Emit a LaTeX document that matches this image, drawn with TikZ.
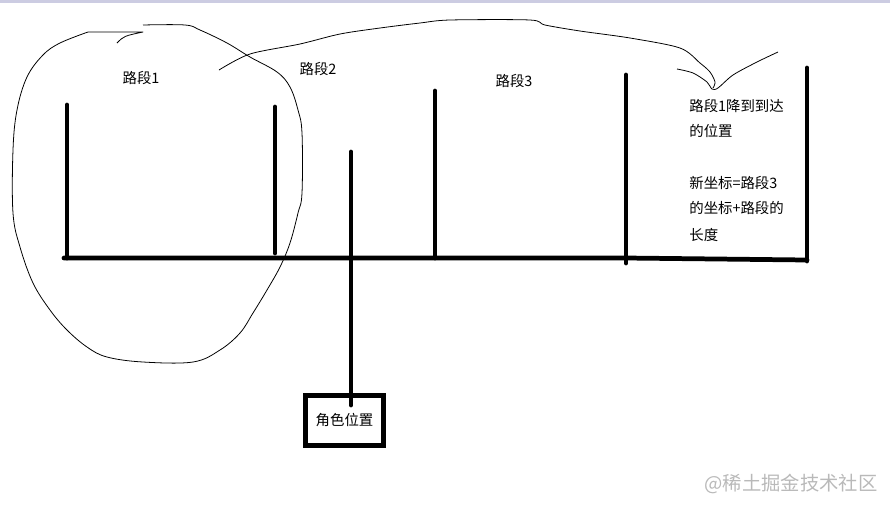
\documentclass[tikz,border=0pt]{standalone}
\usepackage{fontspec}
\newfontfamily\cjk{Noto Sans CJK SC}
\usetikzlibrary{positioning}
\definecolor{topband}{RGB}{204,204,226}
\tikzset{
    post/.style={line width=2.7pt, line cap=round},
    pen/.style={line width=0.45pt, line join=round},
    segtext/.style={font=\cjk\fontsize{8.2}{10}\selectfont, text=black, inner sep=0pt},
    note/.style={segtext, anchor=west},
    rolebox/.style={draw, line width=2.6pt, minimum width=1.56cm, minimum height=1cm, inner sep=0pt}
}
\begin{document}
\begin{tikzpicture}[x=0.02cm, y=-0.02cm]
    \useasboundingbox (0,0) rectangle (890,508);
    \fill[topband] (0,0) rectangle (890,2.5);

    % Base line and posts
    \coordinate (left) at (64,258);
    \coordinate (mid) at (626,258);
    \coordinate (right) at (807,260);
    \draw[post] (left) -- (mid) -- (right);
    \draw[post] (67,105) -- (67,258);
    \draw[post] (275,107) -- (275,253);
    \draw[post] (435,91) -- (435,258);
    \draw[post] (626,75) -- (626,263);
    \draw[post] (807,68) -- (807,261);

    % Character
    \node[rolebox, segtext] (role) at (344.5,420.5) {角色位置};
    \draw[post] (351,152) -- (351,405);

    % Segment labels
    \node[segtext] (seg1) at (141,78) {路段1};
    \node[segtext] (seg2) at (318,69) {路段2};
    \node[segtext] (seg3) at (514,81) {路段3};

    % Notes
    \node[note] (n1) at (689,106) {路段1降到到达};
    \node[note] (n2) at (689,131) {的位置};
    \node[note] (n3) at (689,183) {新坐标=路段3};
    \node[note] (n4) at (689,208) {的坐标+路段的};
    \node[note] (n5) at (689,235) {长度};

    % Freehand loop round segment 1
    \draw[pen] (117,43) .. controls (124,36) .. (143,32) -- (88,32);
    \draw[pen] plot[smooth, tension=0.6] coordinates {
        (88,32) (60,43) (43,55) (27,77) (17,110) (13,150) (13,213) (20,247)
        (33,283) (50,310) (67,330) (87,347) (107,357) (143,362) (193,362)
        (220,350) (240,333) (253,313) (267,290) (280,267) (290,243) (298,213)
        (302,193) (302,133) (298,110) (290,87) (277,72) (250,57) (227,43)
        (200,30) (185,25) (143,25)};

    % Freehand arrow to the new place
    \draw[pen] plot[smooth, tension=0.5] coordinates {
        (219,70) (250,54) (300,44) (340,34) (380,28) (420,23) (450,20)
        (530,20) (545,25) (580,31) (630,38) (680,48) (700,63) (710,72)
        (715,82) (713,88)};
    \draw[pen] plot[smooth, tension=0.5] coordinates {
        (677,69) (693,73) (707,82) (712,89) (718,88) (733,75) (757,62) (778,52)};

    % Watermark
    \node[font=\cjk\fontsize{11}{13}\selectfont, text=gray!55, inner sep=0pt] (mark) at (791,484) {@稀土掘金技术社区};
\end{tikzpicture}
\end{document}
